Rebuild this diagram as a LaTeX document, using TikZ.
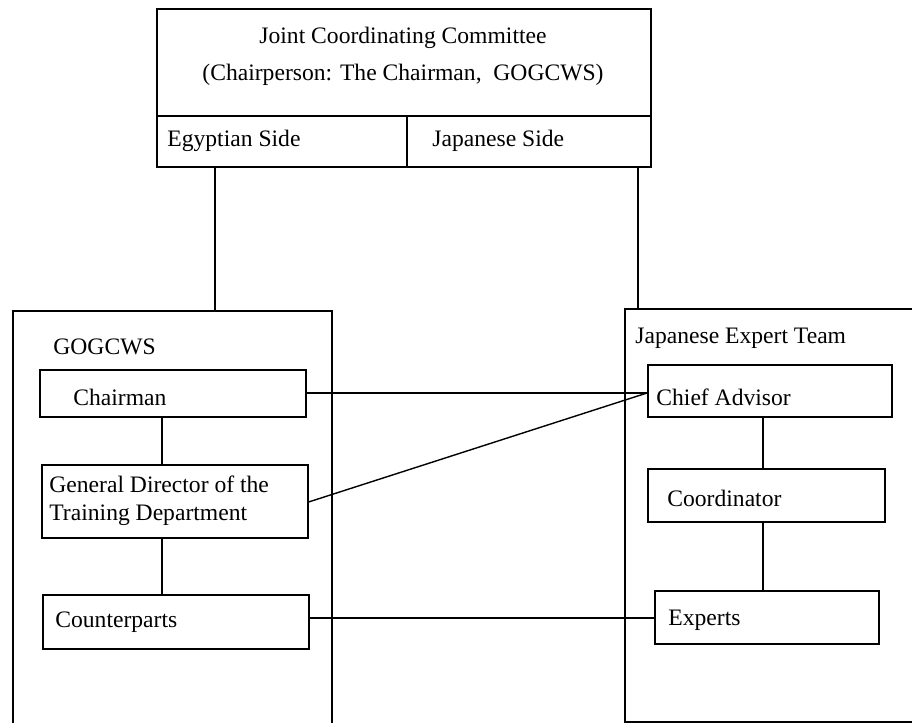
\documentclass[tikz,border=0pt]{standalone}
\usepackage{fontspec}
\setmainfont{Liberation Serif}
\begin{document}
\begin{tikzpicture}[x=0.5pt,y=-0.5pt,
  every node/.style={font=\fontsize{11.8}{14.2}\selectfont},
  box/.style={draw, line width=0.8pt, inner sep=0pt, anchor=north west},
  txt/.style={anchor=west, inner sep=0pt, align=left},
  link/.style={line width=0.7pt}]
\useasboundingbox (0,0) rectangle (912,723);
\clip (0,0) rectangle (912,723);
% top committee box
\node[box, minimum width=494*0.5pt, minimum height=158*0.5pt] (jcc) at (156,8) {};
\node[inner sep=0pt] (jcct) at (403,38) {Joint Coordinating Committee};
\node[inner sep=0pt] (jccs) at (403,75) {(Chairperson: The Chairman,\ \ GOGCWS)};
\coordinate (divl) at (156,116);
\coordinate (divm) at (407,116);
\draw[line width=0.8pt] (divl) -- (divl -| jcc.east);
\draw[line width=0.8pt] (divm) -- (divm |- jcc.south);
\node[txt] (egy) at (167,141) {Egyptian Side};
\node[txt] (jps) at (432,141) {Japanese Side};
% left big box
\node[box, minimum width=319*0.5pt, minimum height=440*0.5pt] (lb) at (12,310) {};
\node[txt] (gog) at (53,347) {GOGCWS};
\node[box, minimum width=266*0.5pt, minimum height=47*0.5pt] (chair) at (39,369) {};
\node[txt] (chairt) at (73,397) {Chairman};
\node[box, minimum width=266*0.5pt, minimum height=73*0.5pt] (gd) at (41,464) {};
\node[txt] (gdt) at (49,501) {General Director of the\\Training Department};
\node[box, minimum width=266*0.5pt, minimum height=54*0.5pt] (cp) at (42,594) {};
\node[txt] (cpt) at (55,622) {Counterparts};
% right big box
\node[box, minimum width=320*0.5pt, minimum height=413*0.5pt] (rb) at (624,308) {};
\node[txt] (jet) at (635,338) {Japanese Expert Team};
\node[box, minimum width=244*0.5pt, minimum height=52*0.5pt] (chief) at (647,364) {};
\node[txt] (chieft) at (656,397) {Chief Advisor};
\node[box, minimum width=237*0.5pt, minimum height=53*0.5pt] (coord) at (647,468) {};
\node[txt] (coordt) at (667,498) {Coordinator};
\node[box, minimum width=224*0.5pt, minimum height=53*0.5pt] (exp) at (654,590) {};
\node[txt] (expt) at (668,620) {Experts};
% connectors
\coordinate (cl) at (215,0);
\coordinate (cr) at (638,0);
\draw[link] (jcc.south -| cl) -- (lb.north -| cl);
\draw[link] (jcc.south -| cr) -- (rb.north -| cr);
\coordinate (vl) at (162,0);
\draw[link] (chair.south -| vl) -- (gd.north -| vl);
\draw[link] (gd.south -| vl) -- (cp.north -| vl);
\coordinate (vr) at (763,0);
\draw[link] (chief.south -| vr) -- (coord.north -| vr);
\draw[link] (coord.south -| vr) -- (exp.north -| vr);
\coordinate (h1) at (0,393);
\draw[link] (chair.east |- h1) -- (chief.west |- h1);
\coordinate (h2) at (0,502);
\draw[link] (gd.east |- h2) -- (chief.west |- h1);
\coordinate (h3) at (0,618);
\draw[link] (cp.east |- h3) -- (exp.west |- h3);
\end{tikzpicture}
\end{document}
